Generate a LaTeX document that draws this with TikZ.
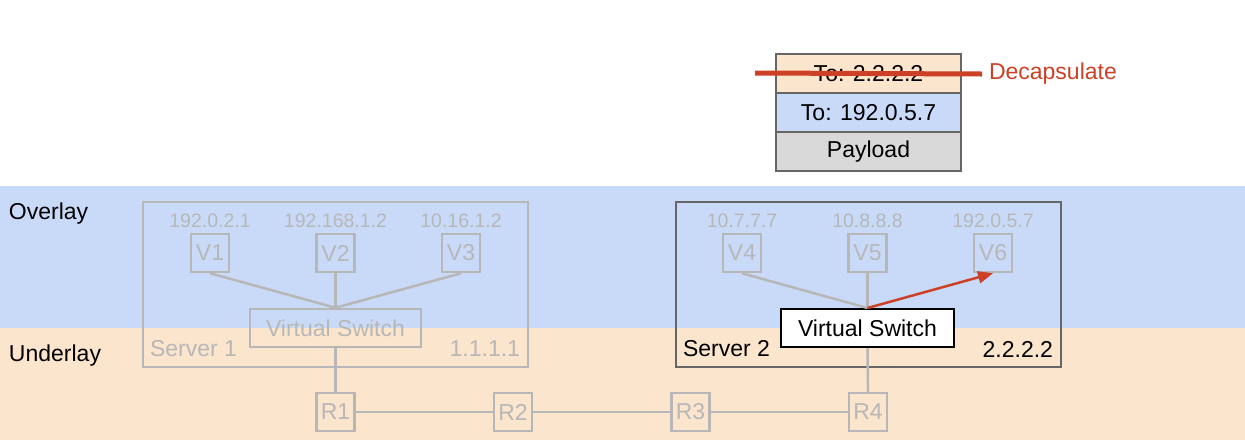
\documentclass[tikz,border=0pt]{standalone}
\usepackage{fontspec}
\setmainfont{Liberation Sans}
\usetikzlibrary{arrows.meta,positioning}
\definecolor{overlayblue}{HTML}{C9DAF8}
\definecolor{underlayorange}{HTML}{FCE5CD}
\definecolor{payloadgray}{HTML}{D9D9D9}
\definecolor{faded}{HTML}{B7B7B7}
\definecolor{srv}{HTML}{666666}
\definecolor{decap}{HTML}{CC4125}
\newcommand{\bigfont}{\fontsize{23}{27}\selectfont}
\newcommand{\ipfont}{\fontsize{19.5}{23}\selectfont}

\begin{document}
\begin{tikzpicture}
[x=1pt,y=-1pt,line width=2pt,node distance=125.5pt,font=\bigfont]\tikzstyle{vm}
=[draw=faded,text=faded,line width=2.5pt,minimum size=38pt,inner sep=0pt]
\tikzstyle{ip}=[text=faded,font=\ipfont,inner sep=0pt]
\tikzstyle{switch}=[draw=faded,text=faded,line width=2.5pt,minimum width=171pt,minimum height=38pt,inner sep=0pt]
\tikzstyle{server}=[draw=faded,line width=2.5pt,minimum width=385pt,minimum height=165pt,inner sep=0pt]
\tikzstyle{pkt}=[draw=srv,line width=1.5pt,minimum width=185pt,minimum height=39pt,inner sep=0pt]
\tikzstyle{link}=[draw=faded,line width=2.5pt]
\useasboundingbox (0,0) rectangle (1245,440);

% the two layers
\fill[overlayblue] (0,186) rectangle (1245,328);
\fill[underlayorange] (0,328) rectangle (1245,440);
\node[anchor=west,inner sep=0pt] (ov) at (8,214) {Overlay};
\node[anchor=west,inner sep=0pt] (ul) at (8,356) {Underlay};

% server 1
\node[server] (S1) at (335.5,284.5) {};
\node[vm] (V1) at (210,253) {V1};
\node[vm] (V2) [right of=V1] {V2};
\node[vm] (V3) [right of=V2] {V3};
\node[ip] (ip1) [above of=V1,node distance=32pt] {192.0.2.1};
\node[ip] (ip2) [above of=V2,node distance=32pt] {192.168.1.2};
\node[ip] (ip3) [above of=V3,node distance=32pt] {10.16.1.2};
\node[switch] (VS1) at (335.5,328) {Virtual Switch};
\node[anchor=west,inner sep=0pt,text=faded] (s1) at (149,349) {Server 1};
\node[anchor=east,inner sep=0pt,text=faded] (a1) at (521,349) {1.1.1.1};

% server 2
\node[server,draw=srv] (S2) at (868.5,284.5) {};
\node[vm] (V4) at (742,253) {V4};
\node[vm] (V5) [right of=V4] {V5};
\node[vm] (V6) [right of=V5] {V6};
\node[ip] (ip4) [above of=V4,node distance=32pt] {10.7.7.7};
\node[ip] (ip5) [above of=V5,node distance=32pt] {10.8.8.8};
\node[ip] (ip6) [above of=V6,node distance=32pt] {192.0.5.7};
\node[switch,draw=black,text=black,fill=white,line width=2pt,minimum width=173pt] (VS2) at (867.5,328) {Virtual Switch};
\node[anchor=west,inner sep=0pt] (s2) at (682,349) {Server 2};
\node[anchor=east,inner sep=0pt] (a2) at (1054,349) {2.2.2.2};

% routers
\node[vm] (R1) at (335.5,412) {R1};
\node[vm] (R2) [right of=R1,node distance=177.5pt] {R2};
\node[vm] (R3) [right of=R2,node distance=177.5pt] {R3};
\node[vm] (R4) [right of=R3,node distance=177.5pt] {R4};

\path[link]
(V1.south) edge (VS1.north)
(V2.south) edge (VS1.north)
(V3.south) edge (VS1.north)
(VS1.south) edge (R1.north)
(V4.south) edge (VS2.north)
(V5.south) edge (VS2.north)
(VS2.south) edge (R4.north)
(R1) edge (R2)
(R2) edge (R3)
(R3) edge (R4)
;
\draw[decap,line width=2.5pt,-{Triangle[length=15pt,width=12pt]}] (VS2.north) -- (V6.south);

% packet
\node[pkt,fill=underlayorange] (P1) at (868.5,73.5) {To: 2.2.2.2};
\node[pkt,fill=overlayblue] (P2) [below of=P1,node distance=39pt] {To: 192.0.5.7};
\node[pkt,fill=payloadgray] (P3) [below of=P2,node distance=39pt] {Payload};
\coordinate (cut) at (755,73);
\node[anchor=west,inner sep=6pt,text=decap] (dec) at (982,74) {Decapsulate};
\draw[decap,line width=5pt] (cut) -- (dec.west);
\end{tikzpicture}
\end{document}
